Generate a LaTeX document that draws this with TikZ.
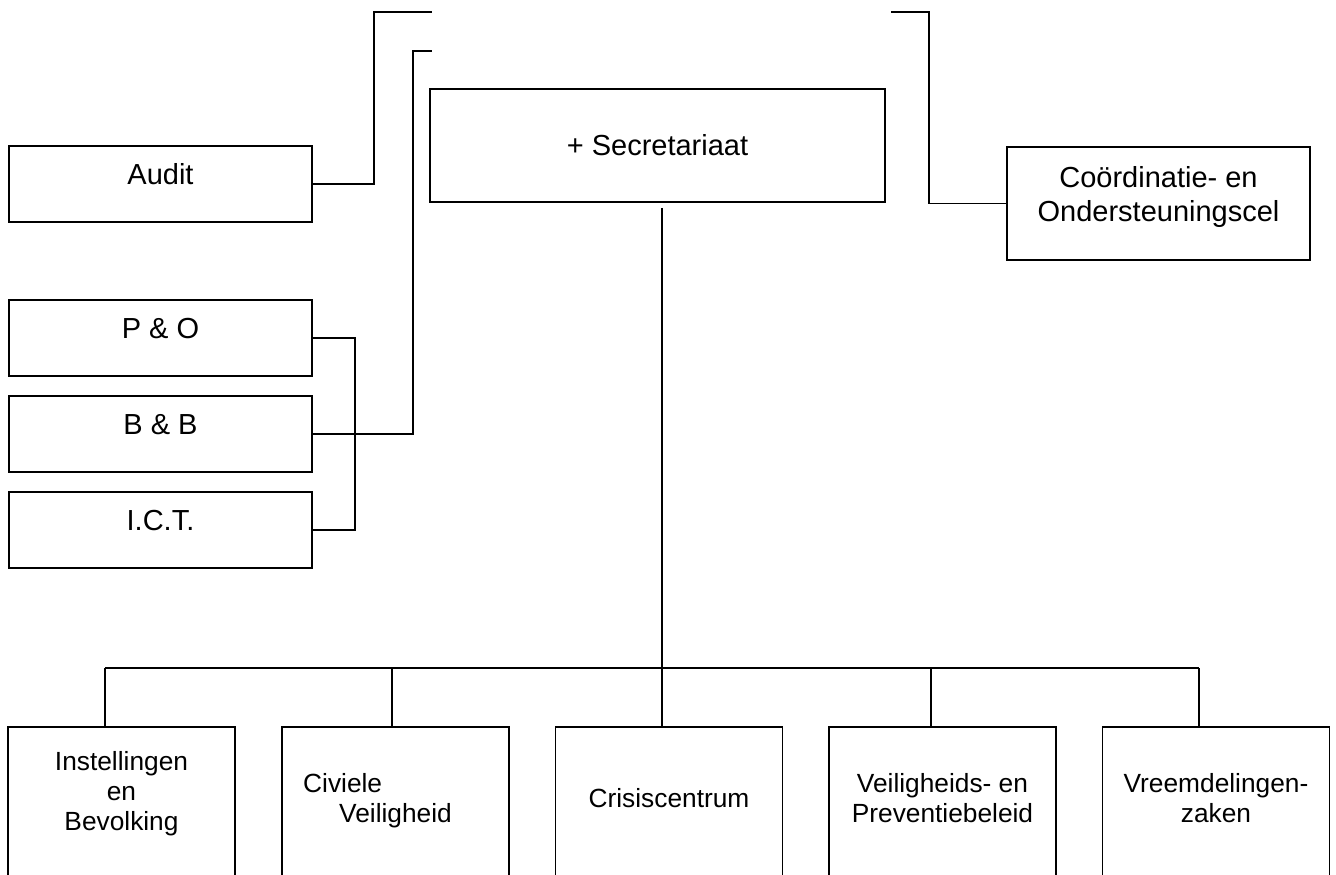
\documentclass[tikz,border=0pt]{standalone}
\usepackage{fontspec}
\setmainfont{Liberation Sans}
\begin{document}
\begin{tikzpicture}[x=1pt,y=-1pt,
           box_style/.style={draw=black,line width=1.8pt,font=\fontsize{29}{34}\selectfont,align=center},
           side_style/.style={box_style,minimum width=303pt,minimum height=76pt,text depth=20pt},
           unit_style/.style={draw=black,line width=1.8pt,minimum width=227pt,minimum height=300pt,anchor=north},
           unit_text/.style={font=\fontsize{26.3}{30}\selectfont,align=center,text depth=0pt,yshift=79pt},
           edge_style/.style={draw=black,line width=1.8pt}]
            \useasboundingbox (0,0) rectangle (1336,875);
            \clip (0,0) rectangle (1336,875);
            \coordinate (h1) at (432,12);
            \coordinate (h2) at (432,51);
            \coordinate (h3) at (891,12);
            \node[box_style,minimum width=455pt,minimum height=113pt] (sec) at (657.5,145.5) {+ Secretariaat};
            \node[side_style] (audit) at (160.5,184) {Audit};
            \node[side_style] (po) at (160.5,338) {P \& O};
            \node[side_style] (bb) at (160.5,434) {B \& B};
            \node[side_style] (ict) at (160.5,530) {I.C.T.};
            \node[side_style,minimum height=113pt] (coc) at (1158.5,203.5) {Coördinatie- en\\Ondersteuningscel};
            \node[unit_style,label={[unit_text,yshift=7pt]center:Instellingen\\en\\Bevolking}] (ib) at (121.5,726) {};
            \node[unit_style,label={[unit_text,align=left,xshift=-18pt]center:Civiele\\\hspace*{36pt}Veiligheid}] (cv) at (395.5,726) {};
            \node[unit_style,label={[unit_text]center:Crisiscentrum}] (cc) at (669,726) {};
            \node[unit_style,label={[unit_text]center:Veiligheids- en\\Preventiebeleid}] (vp) at (942.5,726) {};
            \node[unit_style,label={[unit_text]center:Vreemdelingen-\\zaken}] (vz) at (1216,726) {};
            \coordinate (d1) at (105,668);
            \coordinate (d2) at (392,668);
            \coordinate (d3) at (662,668);
            \coordinate (d4) at (931,668);
            \coordinate (d5) at (1199,668);
            \draw[edge_style]  (audit.east) -- ++(61,0) |- (h1);
            \draw[edge_style]  (bb.east) -- ++(100,0) |- (h2);
            \draw[edge_style]  (po.east) -- ++(42,0) |- (ict.east);
            \draw[edge_style]  (coc.west) -- ++(-77,0) |- (h3);
            \draw[edge_style,shorten <=5pt]  (d3 |- sec.south) -- (d3);
            \draw[edge_style]  (d1) -- (d5);
            \draw[edge_style]  (d1) -- (d1 |- ib.north);
            \draw[edge_style]  (d2) -- (d2 |- cv.north);
            \draw[edge_style]  (d3) -- (d3 |- cc.north);
            \draw[edge_style]  (d4) -- (d4 |- vp.north);
            \draw[edge_style]  (d5) -- (d5 |- vz.north);
\end{tikzpicture}
\end{document}
